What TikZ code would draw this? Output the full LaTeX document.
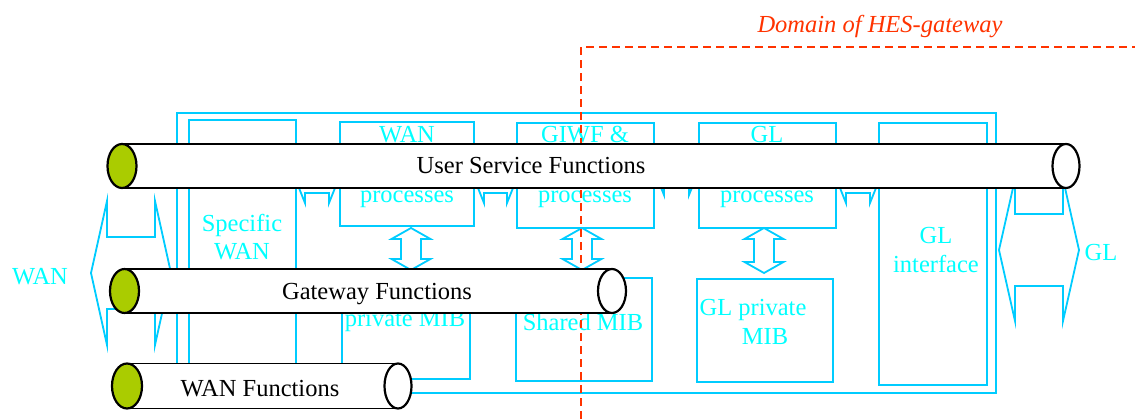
\documentclass[tikz,border=0pt]{standalone}
\usepackage{fontspec}
\setmainfont{Liberation Serif}
\definecolor{cline}{RGB}{0,204,255}
\definecolor{ctext}{RGB}{0,255,255}
\definecolor{dred}{RGB}{255,51,0}
\definecolor{tgreen}{RGB}{170,204,0}
\tikzset{
  box/.style={draw=cline, line width=1.8pt},
  barrow/.style={draw=cline, line width=1.8pt, line join=miter},
  lbl/.style={text=ctext, font=\fontsize{24.5}{28}\selectfont, inner sep=0pt, anchor=base},
  tlbl/.style={text=black, font=\fontsize{24.5}{28}\selectfont, inner sep=0pt, anchor=base},
  tubeline/.style={black, line width=1.6pt},
  tubeend/.style={black, line width=2.2pt},
  domline/.style={dred, line width=2.5pt, dash pattern=on 8pt off 5pt},
}
\newcommand{\tubeshape}[6]{%
  \fill[white] (#1,#3-#6) rectangle (#2,#3+#6);
  \draw[tubeline] (#1,#3-#6) -- (#2,#3-#6) (#1,#3+#6) -- (#2,#3+#6);
  \draw[tubeend, fill=white] (#2,#3) ellipse ({#5pt} and {#6pt});
  \draw[tubeend, fill=tgreen] (#1,#3) ellipse ({#4pt} and {#6pt});
}
\newcommand{\harrow}[6]{%
  \draw[barrow] (#1,#3) -- (#1+#6,#3-#4) -- (#1+#6,#3-#5) -- (#2-#6,#3-#5) -- (#2-#6,#3-#4) -- (#2,#3)
    -- (#2-#6,#3+#4) -- (#2-#6,#3+#5) -- (#1+#6,#3+#5) -- (#1+#6,#3+#4) -- cycle;
}
\newcommand{\varrow}[6]{%
  \draw[barrow] (#3,#1) -- (#3+#4,#1+#6) -- (#3+#5,#1+#6) -- (#3+#5,#2-#6) -- (#3+#4,#2-#6) -- (#3,#2)
    -- (#3-#4,#2-#6) -- (#3-#5,#2-#6) -- (#3-#5,#1+#6) -- (#3-#4,#1+#6) -- cycle;
}
\begin{document}
\begin{tikzpicture}[x=1pt,y=-1pt]
\useasboundingbox (0,0) rectangle (1135,419);
% boxes
\draw[box] (177,113) rectangle (996,393);
\draw[box] (189,120) rectangle (296,385);
\draw[box] (340,122) rectangle (474,226);
\draw[box] (517,123) rectangle (654,228);
\draw[box] (699,123) rectangle (836,228);
\draw[box] (879,123) rectangle (987,385);
\draw[box] (342,278) rectangle (470,379);
\draw[box] (516,278) rectangle (652,381);
\draw[box] (697,279) rectangle (833,382);
% block arrows
\harrow{91}{171}{273}{72}{36}{16}
\harrow{999}{1079}{250}{71}{36}{16}
\harrow{297}{337}{183}{20}{10}{8}
\harrow{476}{515}{183}{20}{10}{8}
\harrow{656}{697}{175}{20}{10}{8}
\harrow{838}{878}{183}{20}{10}{8}
\varrow{228}{270}{411}{19.5}{10}{11}
\varrow{228}{270}{582}{19.5}{10}{11}
\varrow{228}{273}{764}{19.5}{10}{11}
% labels
\node[lbl] (wanl) at (40,285) {WAN};
\node[lbl] (gll) at (1101,261) {GL};
\node[lbl] (spec1) at (242,232) {Specific};
\node[lbl] (spec2) at (242,260) {WAN};
\node[lbl] (wanp1) at (407,143) {WAN};
\node[lbl] (wanp2) at (407,203) {processes};
\node[lbl] (giwf1) at (585,143) {GIWF \&};
\node[lbl] (giwf2) at (585,203) {processes};
\node[lbl] (glp1) at (767,143) {GL};
\node[lbl] (glp2) at (767,203) {processes};
\node[lbl] (gli1) at (936,244) {GL};
\node[lbl] (gli2) at (936,273) {interface};
\node[lbl] (wmib) at (405,327) {private MIB};
\node[lbl] (smib) at (583,331) {Shared MIB};
\node[lbl] (gmib1) at (753,316) {GL private};
\node[lbl] (gmib2) at (765,345) {MIB};
% domain
\draw[domline] (581,419) -- (581,47) -- (1135,47);
\node[text=dred, font=\fontsize{24.5}{28}\selectfont\itshape, inner sep=0pt, anchor=base] (dom) at (880,33) {Domain of HES-gateway};
% tubes
\tubeshape{127}{398}{386}{15}{13.5}{22.5}
\node[tlbl] (wanf) at (260,396) {WAN Functions};
\tubeshape{124.5}{612}{291}{14.5}{14}{22}
\node[tlbl] (gwf) at (377,300) {Gateway Functions};
\tubeshape{122}{1066}{166}{14.5}{13.5}{22}
\node[tlbl] (usf) at (531,174) {User Service Functions};
\end{tikzpicture}
\end{document}
